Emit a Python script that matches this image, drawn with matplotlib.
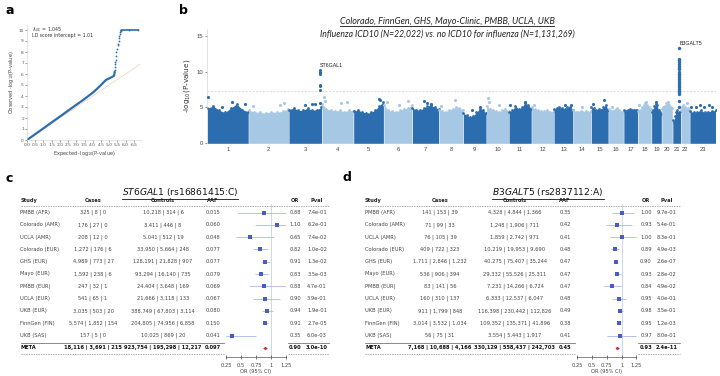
import numpy as np
import matplotlib.pyplot as plt
from matplotlib.lines import Line2D

plt.rcParams['mathtext.fontset'] = 'dejavusans'

W, H = 720, 376

# ---------------- panel a: QQ plot ----------------
qq_exp_line = [0.0, 0.5, 1.0, 1.5, 2.0, 2.5, 3.0, 3.5, 4.0, 4.3, 4.6, 4.8, 5.0, 5.2, 5.3, 5.34]
qq_obs_line = [0.0, 0.53, 1.06, 1.6, 2.13, 2.67, 3.2, 3.73, 4.3, 4.7, 5.15, 5.45, 5.6, 5.75, 5.85, 6.2]
qq_exp_pts = [5.35, 5.36, 5.37, 5.38, 5.4, 5.41, 5.43, 5.5, 5.53, 5.56, 5.59, 5.61, 5.63, 5.66, 5.69]
qq_obs_pts = [6.4, 6.6, 6.9, 7.1, 7.3, 7.6, 8.0, 8.3, 8.6, 8.75, 9.0, 9.3, 9.5, 9.65, 9.8]
qq_exp_top = [5.72, 5.75, 6.2, 6.77]
qq_obs_top = [9.95, 10.0, 10.0, 10.0]
lambda_gc = "1.045"
ld_intercept = "1.01"

# ---------------- panel b: Manhattan ----------------
chrom_len = [248, 242, 198, 190, 181, 171, 159, 145, 138, 134, 135, 133,
             114, 107, 102, 90, 83, 80, 59, 64, 47, 51, 156]
chrom_env = [
    [4.9, 5.2, 4.6, 4.3, 4.9, 5.5, 4.7, 4.4],
    [4.6, 4.4, 4.3, 4.2, 4.4, 4.3, 4.5, 4.8],
    [4.7, 4.9, 4.6, 4.6, 4.9, 4.6, 4.7, 5.0],
    [5.5, 4.8, 4.6, 4.5, 4.6, 4.4, 4.6, 4.5],
    [4.5, 4.6, 4.4, 4.2, 4.3, 4.6, 5.2, 5.8],
    [5.4, 4.6, 4.5, 4.4, 4.6, 4.8, 4.9, 5.4],
    [4.9, 4.7, 4.6, 4.9, 5.2, 5.3, 5.0, 4.8],
    [4.7, 4.5, 4.4, 4.6, 4.8, 5.0, 4.9, 4.7],
    [4.2, 3.9, 3.7, 3.8, 4.3, 4.8, 4.7, 4.2],
    [5.2, 4.8, 4.7, 4.5, 4.4, 4.6, 4.8, 4.5],
    [4.4, 4.6, 5.2, 4.8, 5.0, 5.6, 5.4, 4.8],
    [5.0, 4.8, 4.6, 4.5, 4.5, 4.6, 4.4, 4.5],
    [4.8, 4.9, 5.0, 4.9, 4.8, 5.0, 5.1, 4.7],
    [4.6, 4.3, 4.4, 4.5, 4.4, 4.5, 4.3, 4.5],
    [5.0, 4.9, 4.6, 4.8, 4.7, 5.0, 5.4, 4.6],
    [4.8, 4.5, 4.5, 4.7, 4.9, 4.6, 4.4, 4.3],
    [4.6, 4.5, 4.7, 4.8, 4.6, 4.7, 4.6, 4.7],
    [4.5, 4.6, 5.0, 5.3, 5.6, 5.4, 5.0, 4.8],
    [4.4, 4.7, 5.2, 5.5, 5.3, 4.6, 4.3, 4.1],
    [4.8, 5.0, 5.2, 5.6, 5.5, 5.3, 5.0, 4.9],
    [3.2, 3.0, 3.8, 4.4, 4.6, 4.2, 4.4, 4.5],
    [4.6, 5.0, 5.3, 5.1, 4.8, 4.7, 4.9, 4.6],
    [4.5, 4.3, 4.4, 4.6, 4.3, 4.4, 4.5, 4.6],
]
peak_chr = [1, 1, 1, 1, 2, 2, 2, 3, 3, 3, 3, 3, 3, 3, 3, 3, 3, 3,
            4, 4, 4, 4, 5, 5, 6, 6, 6, 7, 7, 7, 8, 8, 9, 9, 10, 10, 10,
            11, 11, 12, 13, 13, 14, 15, 15, 16, 18, 18, 19, 20, 22,
            23, 23, 23, 23, 23, 23]
peak_frac = [0.02, 0.6, 0.93, 0.35, 0.1, 0.78, 0.9, 0.5, 0.7, 0.8,
             0.94, 0.94, 0.94, 0.94, 0.94, 0.94, 0.94, 0.94,
             0.05, 0.1, 0.6, 0.8, 0.85, 0.9, 0.1, 0.55, 0.85, 0.45, 0.55, 0.7,
             0.1, 0.65, 0.4, 0.75, 0.05, 0.1, 0.55, 0.05, 0.7, 0.1, 0.6, 0.9,
             0.5, 0.1, 0.75, 0.2, 0.1, 0.6, 0.45, 0.55, 0.7,
             0.05, 0.25, 0.4, 0.55, 0.75, 0.85]
peak_val = [6.4, 5.8, 5.5, 5.1, 5.2, 5.4, 5.6, 5.4, 5.5, 5.5,
            10.2, 10.0, 9.8, 9.6, 8.2, 8.0, 7.4, 5.6,
            6.5, 5.9, 5.6, 5.7, 6.2, 6.0, 5.7, 5.4, 5.9, 5.9, 5.6, 5.5,
            5.2, 6.1, 4.6, 5.0, 6.3, 5.7, 5.3, 5.3, 5.7, 5.3, 5.3, 5.4,
            5.0, 5.5, 6.1, 5.1, 5.3, 5.7, 5.7, 5.8, 5.6,
            5.0, 5.0, 5.3, 5.0, 5.3, 5.1]
# chr21 hit column (B3GALT5)
hit21_frac = 0.85
hit21_val = [13.3, 11.8, 11.6, 11.3, 11.1, 10.8, 10.5, 10.3, 10.0, 9.7, 9.5,
             9.2, 8.9, 8.7, 8.4, 8.1, 7.9, 7.6, 7.3, 7.1, 6.9, 5.9, 5.1]
gene_labels = ["ST6GAL1", "B3GALT5"]
gene_chr = [3, 21]
gene_frac = [0.94, 0.85]
gene_val = [10.2, 13.3]

# ---------------- panels c / d: forest plots ----------------
studies = ["PMBB (AFR)", "Colorado (AMR)", "UCLA (AMR)", "Colorado (EUR)", "GHS (EUR)",
           "Mayo (EUR)", "PMBB (EUR)", "UCLA (EUR)", "UKB (EUR)", "FinnGen (FIN)", "UKB (SAS)"]

c_cases = ["325 | 8 | 0", "176 | 27 | 0", "208 | 12 | 0", "1,272 | 176 | 6", "4,989 | 773 | 27",
           "1,592 | 238 | 6", "247 | 32 | 1", "541 | 65 | 1", "3,035 | 503 | 20",
           "5,574 | 1,852 | 154", "157 | 5 | 0"]
c_controls = ["10,218 | 314 | 6", "3,411 | 446 | 8", "5,041 | 512 | 19", "33,950 | 5,664 | 248",
              "128,191 | 21,828 | 907", "93,294 | 16,140 | 735", "24,404 | 3,648 | 169",
              "21,666 | 3,118 | 133", "388,749 | 67,803 | 3,114", "204,805 | 74,956 | 6,858",
              "10,025 | 869 | 20"]
c_aaf = ["0.015", "0.060", "0.048", "0.077", "0.077", "0.079", "0.069", "0.067", "0.080", "0.150", "0.041"]
c_or = [0.88, 1.10, 0.65, 0.82, 0.91, 0.83, 0.88, 0.90, 0.94, 0.91, 0.35]
c_lo = [0.45, 0.74, 0.41, 0.71, 0.85, 0.73, 0.63, 0.71, 0.86, 0.87, 0.25]
c_hi = [1.25, 1.26, 1.05, 0.95, 0.98, 0.95, 1.25, 1.15, 1.03, 0.95, 0.76]
c_pval = ["7.4e-01", "6.2e-01", "7.4e-02", "1.0e-02", "1.3e-02", "3.5e-03", "4.7e-01",
          "3.9e-01", "1.9e-01", "2.7e-05", "6.0e-03"]
c_meta = ["18,116 | 3,691 | 215", "923,754 | 195,298 | 12,217", "0.097", 0.90, "3.0e-10", 0.87, 0.93]

d_cases = ["141 | 153 | 39", "71 | 99 | 33", "76 | 105 | 39", "409 | 722 | 323",
           "1,711 | 2,846 | 1,232", "536 | 906 | 394", "83 | 141 | 56", "160 | 310 | 137",
           "911 | 1,799 | 848", "3,014 | 3,532 | 1,034", "56 | 75 | 31"]
d_controls = ["4,328 | 4,844 | 1,366", "1,248 | 1,906 | 711", "1,859 | 2,742 | 971",
              "10,219 | 19,953 | 9,690", "40,275 | 75,407 | 35,244", "29,332 | 55,526 | 25,311",
              "7,231 | 14,266 | 6,724", "6,333 | 12,537 | 6,047", "116,398 | 230,442 | 112,826",
              "109,352 | 135,371 | 41,896", "3,554 | 5,443 | 1,917"]
d_aaf = ["0.35", "0.42", "0.41", "0.48", "0.47", "0.47", "0.47", "0.48", "0.49", "0.38", "0.41"]
d_or = [1.00, 0.93, 1.00, 0.89, 0.90, 0.93, 0.84, 0.95, 0.98, 0.95, 0.97]
d_lo = [0.83, 0.74, 0.81, 0.82, 0.87, 0.87, 0.71, 0.84, 0.94, 0.92, 0.76]
d_hi = [1.21, 1.17, 1.24, 0.96, 0.93, 0.99, 1.00, 1.07, 1.02, 0.98, 1.24]
d_pval = ["9.7e-01", "5.4e-01", "8.3e-01", "4.9e-03", "2.6e-07", "2.8e-02", "4.9e-02",
          "4.0e-01", "3.5e-01", "1.2e-03", "8.0e-01"]
d_meta = ["7,168 | 10,688 | 4,166", "330,129 | 558,437 | 242,703", "0.45", 0.93, "2.4e-11", 0.91, 0.95]

sq_size = [3.0, 3.0, 3.0, 3.3, 3.4, 3.2, 3.0, 3.0, 3.5, 3.4, 3.0]

DARK = "#2c6db0"
LIGHT = "#a7c8e5"
SQ = "#4a5bc4"
CI = "#a9b8ea"
FS = 3.7

fig = plt.figure(figsize=(7.2, 3.76), dpi=100)


def fx(x):
    return x / W


def fy(y):
    return 1 - y / H


def add_ax(x0, y0, x1, y1):
    return fig.add_axes([x0 / W, 1 - y1 / H, (x1 - x0) / W, (y1 - y0) / H])


def ftext(x, y, s, **kw):
    kw.setdefault("va", "center")
    return fig.text(fx(x), fy(y), s, **kw)


def hline(x0, x1, y, **kw):
    fig.add_artist(Line2D([fx(x0), fx(x1)], [fy(y), fy(y)], transform=fig.transFigure, **kw))


# panel letters
for s, x, y in [("a", 10, 11), ("b", 183, 11), ("c", 9, 179), ("d", 347, 178)]:
    ftext(x, y, s, fontsize=9, fontweight="bold", ha="center")

# ===== a: QQ =====
axq = add_ax(27, 24.5, 142, 140)
axq.plot([0, 6.9], [0, 6.9], color="#f6c9b0", lw=0.5, zorder=1)
axq.plot(qq_exp_line, qq_obs_line, color=DARK, lw=1.6, solid_capstyle="round", zorder=2)
axq.plot(qq_exp_pts, qq_obs_pts, "o", color=DARK, ms=1.3, mew=0, zorder=2)
axq.plot(qq_exp_top, qq_obs_top, color=DARK, lw=1.2, marker="o", ms=1.3, mew=0, zorder=2)
axq.set_xlim(0, 7.0)
axq.set_ylim(0, 10.5)
axq.set_xticks(np.arange(0, 6.6, 0.5))
axq.set_xticklabels([f"{v:.1f}" for v in np.arange(0, 6.6, 0.5)])
axq.set_yticks(range(0, 11))
axq.tick_params(labelsize=3.2, length=1.2, width=0.4, pad=1, colors="#555")
for sp in ["top", "right"]:
    axq.spines[sp].set_visible(False)
for sp in ["left", "bottom"]:
    axq.spines[sp].set_color("#d0d0d0")
    axq.spines[sp].set_linewidth(0.4)
axq.set_xlabel("Expected -log$_{10}$(P-value)", fontsize=3.6, labelpad=1.5, color="#444")
axq.set_ylabel("Observed -log$_{10}$(P-value)", fontsize=3.6, labelpad=2, color="#444")
ftext(32, 30, r"$\lambda_{GC}$ = " + lambda_gc, fontsize=3.4, color="#333")
ftext(32, 35.5, "LD score intercept = " + ld_intercept, fontsize=3.4, color="#333")

# ===== b: Manhattan =====
axm = add_ax(207, 28.6, 716, 143.3)
gap = 3
starts = np.cumsum([0] + [L + gap for L in chrom_len[:-1]])
centers = []
for i, (L, env) in enumerate(zip(chrom_len, chrom_env)):
    s0 = starts[i]
    col = DARK if i % 2 == 0 else LIGHT
    xs = np.linspace(s0, s0 + L, len(env))
    axm.fill_between(xs, 0, env, color=col, lw=0, zorder=2)
    axm.scatter(xs, env, s=4, color=col, lw=0, zorder=2)
    centers.append(s0 + L / 2)
for c, f, v in zip(peak_chr, peak_frac, peak_val):
    col = DARK if (c - 1) % 2 == 0 else LIGHT
    axm.scatter(starts[c - 1] + f * chrom_len[c - 1], v, s=5, color=col, lw=0, zorder=3)
x21 = starts[20] + hit21_frac * chrom_len[20]
axm.scatter([x21] * len(hit21_val), hit21_val, s=6, color=DARK, lw=0, zorder=3)
for g, c, f, v in zip(gene_labels, gene_chr, gene_frac, gene_val):
    axm.text(starts[c - 1] + f * chrom_len[c - 1] + 2, v + 0.3, g, fontsize=3.8,
             family="Liberation Sans", color="#222", va="bottom")
axm.axhline(-np.log10(5e-8), color="#cfcfcf", lw=0.5, ls=(0, (3, 2)), zorder=1)
axm.set_xlim(-gap, starts[-1] + chrom_len[-1] + gap)
axm.set_ylim(0, 16)
axm.set_xticks(centers)
axm.set_xticklabels([str(i + 1) for i in range(len(chrom_len))])
axm.set_yticks([0, 5, 10, 15])
axm.tick_params(axis="x", length=0, labelsize=4.2, pad=2.5, colors="#444")
axm.tick_params(axis="y", length=1.5, width=0.4, labelsize=4.2, pad=1.5, colors="#444")
for lab in axm.get_xticklabels() + axm.get_yticklabels():
    lab.set_family("Liberation Sans")
for sp in ["top", "right", "bottom"]:
    axm.spines[sp].set_visible(False)
axm.spines["left"].set_color("#cccccc")
axm.spines["left"].set_linewidth(0.4)
axm.set_ylabel("-log$_{10}$(P-value)", fontsize=5.2, labelpad=3, color="#333")

t1 = ftext(447, 21.3, "Colorado, FinnGen, GHS, Mayo-Clinic, PMBB, UCLA, UKB",
           fontsize=6.5, style="italic", family="Lato", ha="center", color="#222")
ftext(447.5, 34.4, "Influenza ICD10 (N=22,022) vs. no ICD10 for influenza (N=1,131,269)",
      fontsize=6.2, style="italic", family="Lato", ha="center", color="#222")


# ===== c / d: forest tables =====
def forest(xcol, title, cases, controls, aaf, ors, lo, hi, pval, meta, fx0, fx1):
    x_study, x_cases, x_ctrl, x_aaf, x_or, x_p, x_end, x_title = xcol
    tt = ftext(x_title, 192, title, fontsize=6.6, ha="center", color="#111")
    hdr = dict(fontsize=FS, fontweight="bold", color="#222")
    ftext(x_study, 200.7, "Study", ha="left", **hdr)
    ftext(x_cases, 200.7, "Cases", ha="center", **hdr)
    ftext(x_ctrl, 200.7, "Controls", ha="center", **hdr)
    ftext(x_aaf, 200.7, "AAF", ha="center", **hdr)
    ftext(x_or, 200.7, "OR", ha="center", **hdr)
    ftext(x_p, 200.7, "Pval", ha="center", **hdr)
    hline(x_study, x_end, 206.1, color="#888", lw=0.5, ls=(0, (2, 1.5)))
    rows = dict(fontsize=FS, color="#444")
    for i in range(len(studies)):
        y = 212.5 + i * 12.3
        ftext(x_study, y, studies[i], ha="left", **rows)
        ftext(x_cases, y, cases[i], ha="center", **rows)
        ftext(x_ctrl, y, controls[i], ha="center", **rows)
        ftext(x_aaf, y, aaf[i], ha="center", **rows)
        ftext(x_or, y, f"{ors[i]:.2f}", ha="center", **rows)
        ftext(x_p, y, pval[i], ha="center", **rows)
    ym = 212.5 + 11 * 12.3
    bold = dict(fontsize=FS, fontweight="bold", color="#111")
    ftext(x_study, ym, "META", ha="left", **bold)
    ftext(x_cases, ym, meta[0], ha="center", **bold)
    ftext(x_ctrl, ym, meta[1], ha="center", **bold)
    ftext(x_aaf, ym, meta[2], ha="center", **bold)
    ftext(x_or, ym, f"{meta[3]:.2f}", ha="center", **bold)
    ftext(x_p, ym, meta[4], ha="center", **bold)
    hline(x_study, fx0 + 1, 342.7, color="#777", lw=0.6)
    hline(fx1 - 1, x_end, 342.7, color="#777", lw=0.6)
    hline(x_study, fx0 + 1, 354.3, color="#888", lw=0.5, ls=(0, (2, 1.5)))
    hline(fx1 - 1, x_end, 354.3, color="#888", lw=0.5, ls=(0, (2, 1.5)))

    # forest axes: OR 0.2..1.3 mapped on pixels
    ax = add_ax(fx0, 204, fx1, 357)
    idx = np.arange(len(studies))
    ax.hlines(idx, lo, hi, color=CI, lw=0.6, zorder=2)
    for i in idx:
        ax.plot(ors[i], i, "s", color=SQ, ms=sq_size[i], mew=0, zorder=3)
    ax.hlines(11, meta[5], meta[6], color="#e06060", lw=0.6, zorder=2)
    ax.plot(meta[3], 11, "D", color="#d42a2a", ms=2.0, mew=0, zorder=3)
    ax.axvline(1, color="#b4c8f0", lw=0.5, zorder=1)
    ax.set_xlim(0.2, 1.3)
    ax.set_ylim((357 - 212.5) / 12.3, (204 - 212.5) / 12.3)
    ax.set_yticks([])
    ax.set_xticks([0.25, 0.5, 0.75, 1, 1.25])
    ax.set_xticklabels(["0.25", "0.5", "0.75", "1", "1.25"])
    ax.tick_params(axis="x", direction="inout", length=3, width=0.5, labelsize=FS,
                   pad=2.5, colors="#444")
    for sp in ["top", "right", "left"]:
        ax.spines[sp].set_visible(False)
    ax.spines["bottom"].set_bounds(0.25, 1.25)
    ax.spines["bottom"].set_linewidth(0.5)
    ax.spines["bottom"].set_color("#555")
    ax.set_xlabel("OR (95% CI)", fontsize=FS, labelpad=1, color="#444")
    ax.patch.set_alpha(0)
    return tt


tc = forest([20.5, 93, 163, 213, 295, 317, 329, 180], r"$\mathit{ST6GAL1}$ (rs16861415:C)",
            c_cases, c_controls, c_aaf, c_or, c_lo, c_hi, c_pval, c_meta,
            226 - 0.05 * 59.7, 285.7 + 0.05 * 59.7)
td = forest([365, 440, 515, 565, 646, 666.5, 680, 548], r"$\mathit{B3GALT5}$ (rs2837112:A)",
            d_cases, d_controls, d_aaf, d_or, d_lo, d_hi, d_pval, d_meta,
            577.3 - 0.05 * 59, 636.3 + 0.05 * 59)

# underline titles
fig.canvas.draw()
r = fig.canvas.get_renderer()
for t, yu in [(t1, 26.3), (tc, 198.5), (td, 198.5)]:
    bb = t.get_window_extent(renderer=r)
    fig.add_artist(Line2D([bb.x0 / W, bb.x1 / W], [fy(yu), fy(yu)],
                          transform=fig.transFigure, color="#111", lw=0.6))

fig.savefig("out.png", dpi=100)
